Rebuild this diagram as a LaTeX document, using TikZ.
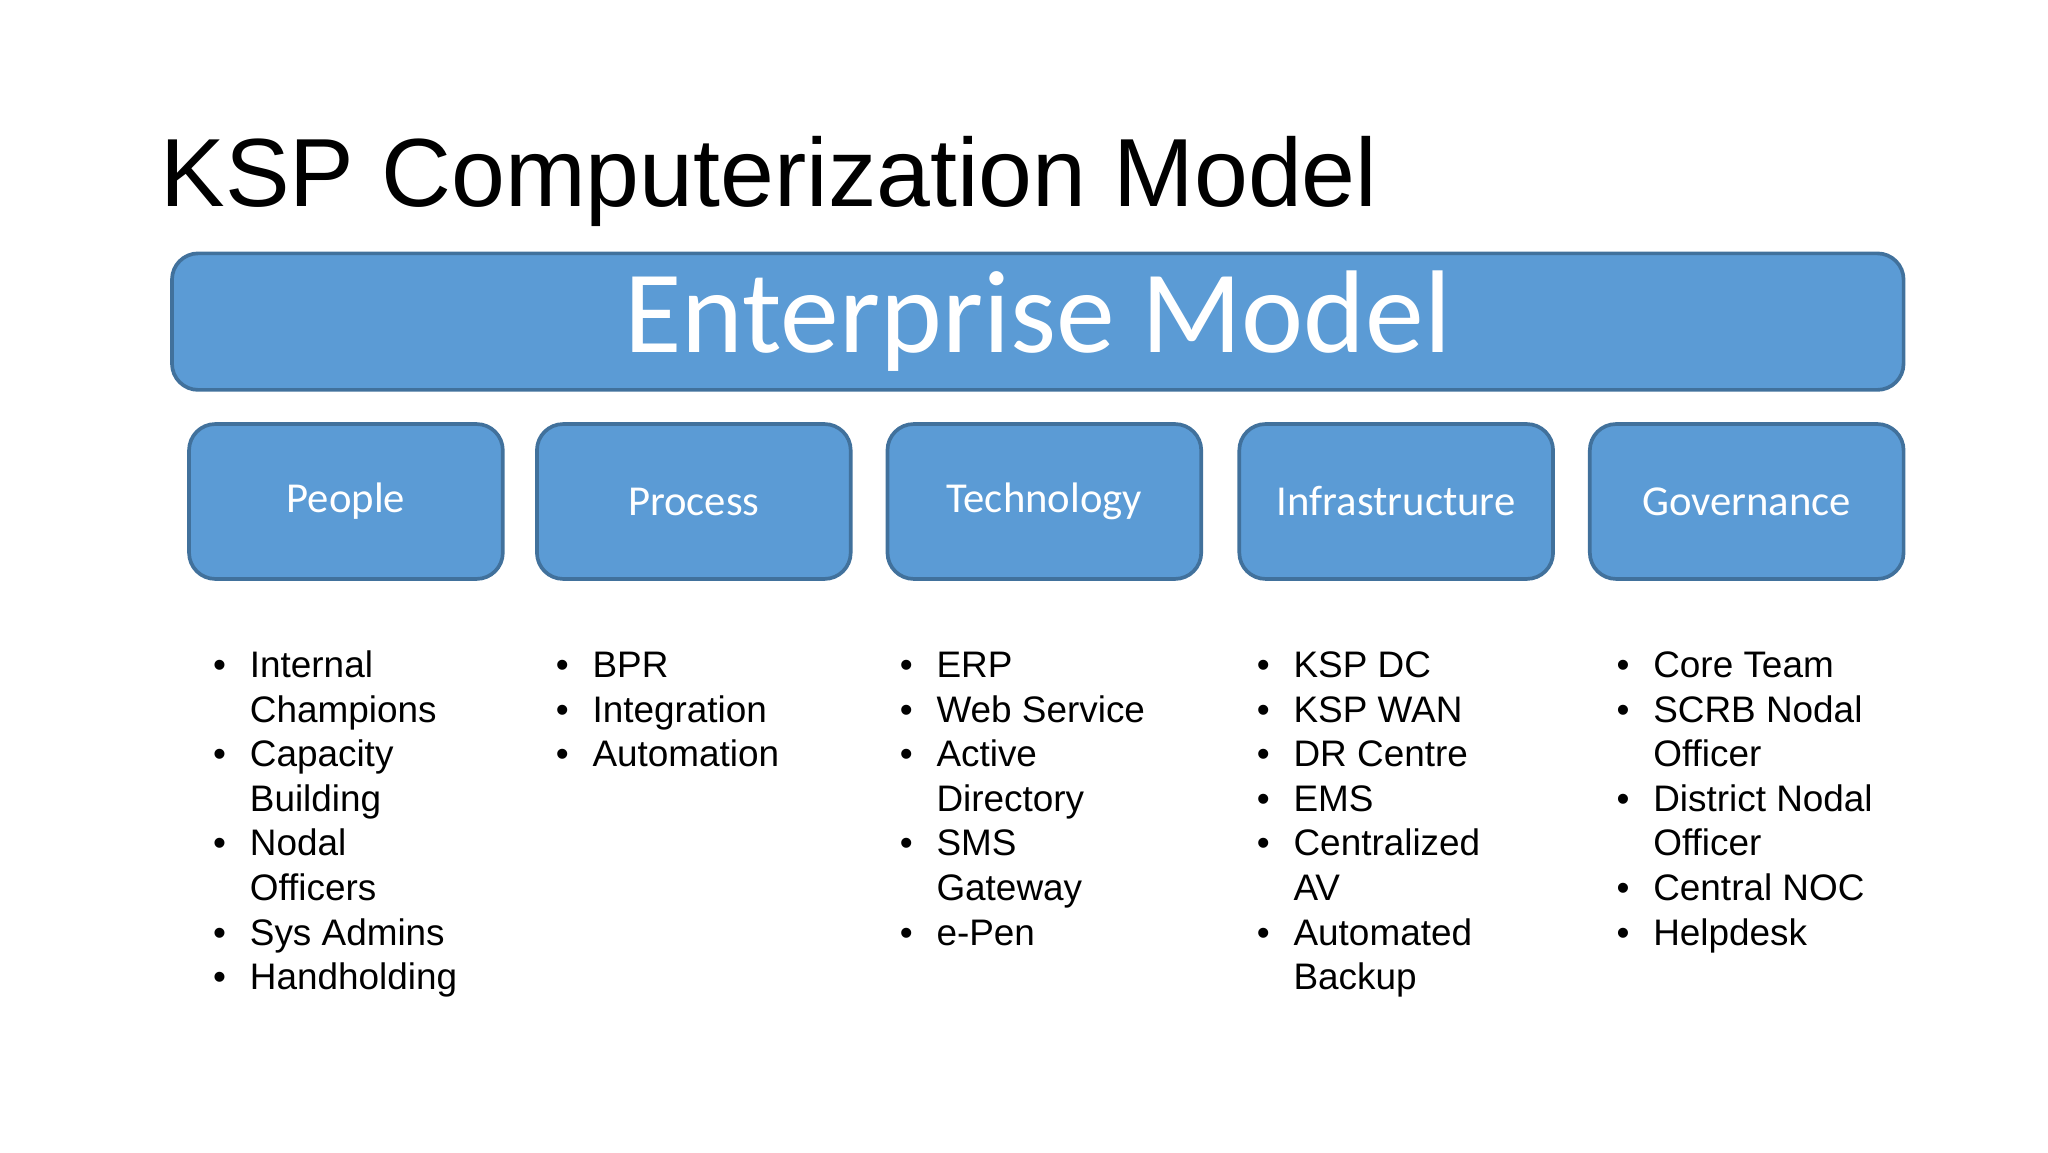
\documentclass[tikz,border=0pt]{standalone}
\usepackage{fontspec}
\setmainfont{Liberation Sans}
\newfontfamily\calfont{Carlito}
\definecolor{boxfill}{HTML}{5B9BD5}
\definecolor{boxline}{HTML}{41719C}
\begin{document}
\begin{tikzpicture}[x=0.02cm,y=0.02cm,
  box/.style={draw=boxline,line width=1.6pt,fill=boxfill,rounded corners=0.4cm,text=white,inner sep=0pt},
  txt/.style={inner sep=0pt,anchor=base west,font=\fontsize{16}{19}\selectfont}]
\useasboundingbox (0,0) rectangle (1560,-878);
\node[anchor=base west,inner sep=0pt,font=\fontsize{42}{50}\selectfont] (title) at (122,-157) {KSP Computerization Model};
\node[box,minimum width=1319*0.02cm,minimum height=104*0.02cm,font=\calfont\fontsize{51}{60}\selectfont] (ent) at (790.5,-245) {Enterprise Model};
\foreach \x/\n/\t in {144/people/People,409/process/Process,676/tech/Technology,944/infra/Infrastructure,1211/gov/Governance}{
  \node[box,minimum width=239*0.02cm,minimum height=118*0.02cm,font=\calfont\fontsize{18.5}{22}\selectfont] (\n) at (\x+119.5,-382) {\t};
}
\foreach \c/\i/\b/\t in {
 190/1/1/Internal,190/2/0/Champions,190/3/1/Capacity,190/4/0/Building,190/5/1/Nodal,190/6/0/Officers,190/7/1/Sys Admins,190/8/1/Handholding,
 451/1/1/BPR,451/2/1/Integration,451/3/1/Automation,
 713/1/1/ERP,713/2/1/Web Service,713/3/1/Active,713/4/0/Directory,713/5/1/SMS,713/6/0/Gateway,713/7/1/e-Pen,
 985/1/1/KSP DC,985/2/1/KSP WAN,985/3/1/DR Centre,985/4/1/EMS,985/5/1/Centralized,985/6/0/AV,985/7/1/Automated,985/8/0/Backup,
 1259/1/1/Core Team,1259/2/1/SCRB Nodal,1259/3/0/Officer,1259/4/1/District Nodal,1259/5/0/Officer,1259/6/1/Central NOC,1259/7/1/Helpdesk}{
  \node[txt] (t\c-\i) at (\c,-516-34*\i+34) {\t};
  \ifnum\b=1 \node[txt] (b\c-\i) at (\c-28,-516-34*\i+34) {•};\fi
}
\end{tikzpicture}
\end{document}
